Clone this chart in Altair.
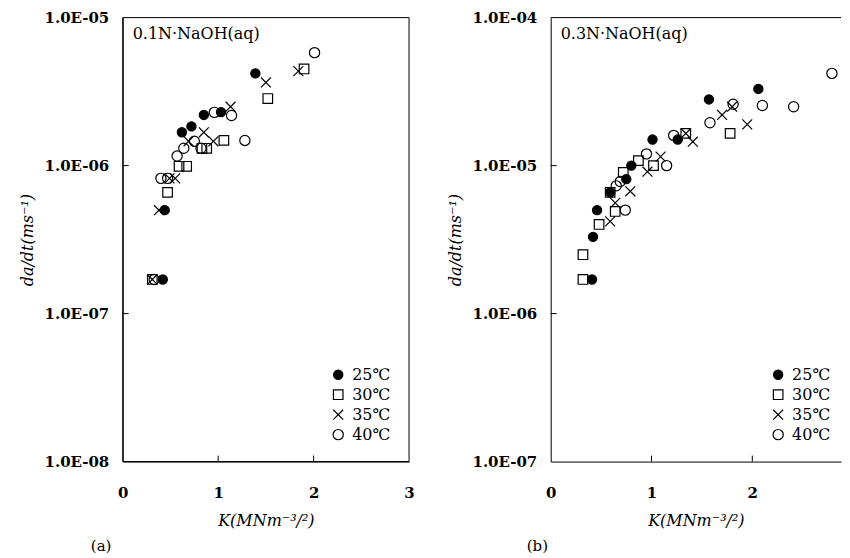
import altair as alt
import pandas as pd

SERIES = ["25℃", "30℃", "35℃", "40℃"]

# ---- panel (a): 0.1N NaOH(aq) ----
A_LABEL = "0.1N·NaOH(aq)"
A25_K = [0.42, 0.44, 0.62, 0.72, 0.85, 1.03, 1.39]
A25_V = [1.7e-7, 5.0e-7, 1.68e-6, 1.84e-6, 2.2e-6, 2.3e-6, 4.2e-6]
A30_K = [0.31, 0.47, 0.59, 0.67, 0.83, 0.88, 1.06, 1.52, 1.90]
A30_V = [1.7e-7, 6.6e-7, 9.9e-7, 9.9e-7, 1.31e-6, 1.31e-6, 1.48e-6, 2.84e-6, 4.5e-6]
A35_K = [0.31, 0.38, 0.49, 0.55, 0.69, 0.85, 0.95, 1.13, 1.50, 1.84]
A35_V = [1.7e-7, 5.0e-7, 8.2e-7, 8.2e-7, 1.46e-6, 1.68e-6, 1.46e-6, 2.5e-6, 3.65e-6, 4.35e-6]
A40_K = [0.33, 0.40, 0.47, 0.57, 0.64, 0.75, 0.82, 0.96, 1.14, 1.28, 2.01]
A40_V = [1.7e-7, 8.2e-7, 8.2e-7, 1.16e-6, 1.31e-6, 1.46e-6, 1.31e-6, 2.29e-6, 2.18e-6, 1.48e-6, 5.8e-6]
A_XDOMAIN = [0, 3]
A_XTICKS = [0, 1, 2, 3]
A_YTICKS = [1e-8, 1e-7, 1e-6, 1e-5]

# ---- panel (b): 0.3N NaOH(aq) ----
B_LABEL = "0.3N·NaOH(aq)"
B25_K = [0.41, 0.42, 0.46, 0.59, 0.75, 0.80, 1.01, 1.26, 1.57, 2.06]
B25_V = [1.7e-6, 3.3e-6, 5.0e-6, 6.6e-6, 8.1e-6, 1.0e-5, 1.5e-5, 1.5e-5, 2.8e-5, 3.3e-5]
B30_K = [0.32, 0.32, 0.48, 0.59, 0.64, 0.72, 0.87, 1.02, 1.34, 1.78]
B30_V = [1.7e-6, 2.5e-6, 4.0e-6, 6.6e-6, 4.9e-6, 9.0e-6, 1.08e-5, 1.0e-5, 1.65e-5, 1.65e-5]
B35_K = [0.59, 0.64, 0.79, 0.96, 1.09, 1.34, 1.41, 1.70, 1.80, 1.95]
B35_V = [4.2e-6, 5.6e-6, 6.7e-6, 9.1e-6, 1.15e-5, 1.65e-5, 1.45e-5, 2.2e-5, 2.5e-5, 1.9e-5]
B40_K = [0.65, 0.69, 0.74, 0.95, 1.15, 1.22, 1.58, 1.81, 2.10, 2.41, 2.79]
B40_V = [7.3e-6, 7.8e-6, 5.0e-6, 1.2e-5, 1.0e-5, 1.6e-5, 1.95e-5, 2.6e-5, 2.55e-5, 2.5e-5, 4.2e-5]
B_XDOMAIN = [0, 2.88]   # the panel is cut off at the right edge of the picture
B_XTICKS = [0, 1, 2]
B_YTICKS = [1e-7, 1e-6, 1e-5, 1e-4]

X_TITLE = "K(MNm⁻³/²)"
Y_TITLE = "da/dt(ms⁻¹)"

CROSS = "M-1,-1L1,1M-1,1L1,-1"
FONT = "DejaVu Serif"
H = 445


def build_df(groups):
    rows = []
    for name, ks, vs in groups:
        for k, v in zip(ks, vs):
            rows.append({"K": k, "V": v, "T": name})
    return pd.DataFrame(rows)


def panel(df, label, xdom, xticks, yticks, W, legend_x, caption, cap_dx, full_frame):
    ydom = [yticks[0], yticks[-1]]
    leg = alt.Legend(
        title=None, orient="none", legendX=legend_x, legendY=350,
        labelFont=FONT, labelFontSize=16, labelColor="black",
        symbolStrokeWidth=1.2,
        rowPadding=4, labelOffset=6, padding=0,
    )
    xs = alt.Scale(domain=xdom, nice=False, zero=False)
    ys = alt.Scale(type="log", domain=ydom, nice=False)
    pts = alt.Chart(df).mark_point(strokeWidth=1.2, opacity=1).encode(
        x=alt.X("K:Q", scale=xs,
                axis=alt.Axis(values=xticks, title=X_TITLE, format="d",
                              labelFlush=False, labelPadding=24, titlePadding=12)),
        y=alt.Y("V:Q", scale=ys,
                axis=alt.Axis(values=yticks, title=Y_TITLE,
                              labelExpr="'1.0E-0' + round(-log(datum.value)/LN10)",
                              labelPadding=14, titlePadding=9)),
        shape=alt.Shape("T:N", scale=alt.Scale(domain=SERIES, range=["circle", "square", CROSS, "circle"]), legend=leg),
        fill=alt.Fill("T:N", scale=alt.Scale(domain=SERIES, range=["black", "transparent", "transparent", "transparent"]), legend=leg),
        stroke=alt.Stroke("T:N", scale=alt.Scale(domain=SERIES, range=["black", "black", "black", "black"]), legend=leg),
        size=alt.Size("T:N", scale=alt.Scale(domain=SERIES, range=[85, 105, 140, 85]), legend=leg),
    )
    yt = alt.Chart(pd.DataFrame({"V": yticks[1:-1]})).mark_rule(color="black", strokeWidth=1).encode(
        y=alt.Y("V:Q", scale=ys), x=alt.value(0), x2=alt.value(6))
    xt = alt.Chart(pd.DataFrame({"K": [t for t in xticks if xdom[0] < t < xdom[1]]})).mark_rule(
        color="black", strokeWidth=1).encode(
        x=alt.X("K:Q", scale=xs), y=alt.value(H), y2=alt.value(H - 6))
    txt = alt.Chart(pd.DataFrame({"t": [label]})).mark_text(
        align="left", baseline="middle", font=FONT, fontSize=16, color="black"
    ).encode(x=alt.value(10), y=alt.value(16), text="t:N")
    one = pd.DataFrame({"a": [0]})
    if full_frame:
        frame = alt.Chart(one).mark_rect(filled=False, color="black", strokeWidth=1).encode(
            x=alt.value(0), x2=alt.value(W), y=alt.value(0), y2=alt.value(H))
    else:
        frame = alt.Chart(one).mark_rule(color="black", strokeWidth=1).encode(
            x=alt.value(0), x2=alt.value(W), y=alt.value(0))
    return alt.layer(frame, pts, yt, xt, txt).properties(
        width=W, height=H,
        title=alt.TitleParams(text=caption, orient="bottom", anchor="start", frame="group",
                              dx=cap_dx, offset=11, font=FONT, fontSize=15,
                              fontWeight="normal", color="black"),
    )


dfa = build_df([(SERIES[0], A25_K, A25_V), (SERIES[1], A30_K, A30_V),
                (SERIES[2], A35_K, A35_V), (SERIES[3], A40_K, A40_V)])
dfb = build_df([(SERIES[0], B25_K, B25_V), (SERIES[1], B30_K, B30_V),
                (SERIES[2], B35_K, B35_V), (SERIES[3], B40_K, B40_V)])

left = panel(dfa, A_LABEL, A_XDOMAIN, A_XTICKS, A_YTICKS, 287, 208, "(a)", -32, True)
right = panel(dfb, B_LABEL, B_XDOMAIN, B_XTICKS, B_YTICKS, 291, 220, "(b)", -24, False)

chart = alt.hconcat(left, right, spacing=32).resolve_scale(
    shape="independent", fill="independent", size="independent", stroke="independent"
).resolve_legend(shape="independent", fill="independent", size="independent", stroke="independent").properties(
    padding={"left": 11, "top": 2, "right": 0, "bottom": 0},
    background="white",
).configure_view(stroke=None).configure_axis(
    labelFont=FONT, labelFontSize=15, labelFontWeight="bold", labelColor="black",
    titleFont=FONT, titleFontStyle="italic", titleFontWeight="normal", titleFontSize=16,
    titleColor="black", domainColor="black", domainWidth=1, ticks=False, grid=False,
)

chart.save("out.html", embed_options={"renderer": "svg", "actions": False})
